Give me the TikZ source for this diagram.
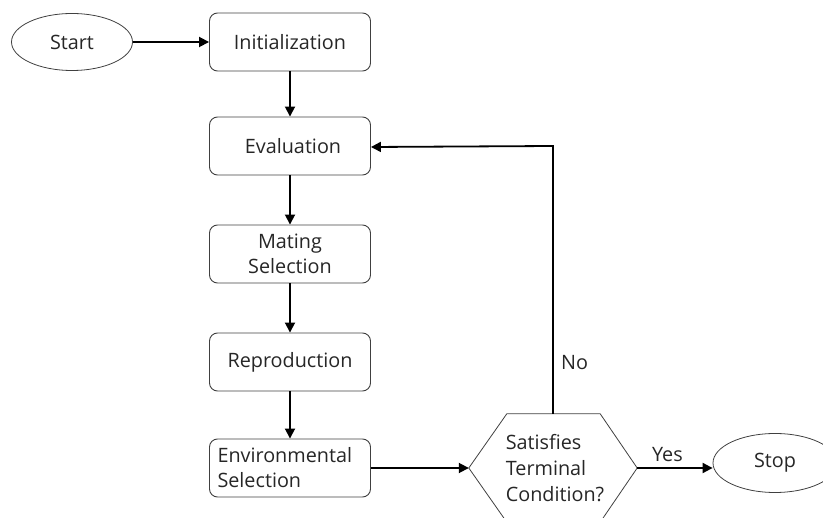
\documentclass[tikz,border=0pt]{standalone}
\usepackage{fontspec}
\setmainfont{Open Sans}
\usetikzlibrary{arrows.meta,calc,shapes.geometric}
\begin{document}
\begin{tikzpicture}[x=1pt,y=-1pt,
  every node/.style={font=\fontsize{19.8}{25}\selectfont, text=black!85},
  procbox/.style={draw=black!75, line width=0.9pt, rounded corners=8pt,
    minimum width=161pt, minimum height=58pt, inner sep=0pt, align=center},
  term/.style={draw=black!75, line width=0.8pt, ellipse, inner sep=0pt},
  flow/.style={line width=1.8pt, -{Triangle[length=10pt,width=10pt]}}
]
\useasboundingbox (0,0) rectangle (823,518);
\clip (0,0) rectangle (823,518);

% terminals
\node[term, minimum width=121pt, minimum height=57pt] (start) at (72,42) {Start};
\node[term, minimum width=124pt, minimum height=59pt] (stop) at (775,463) {Stop};

% process steps
\node[procbox] (init) at (290,42) {Initialization};
\node[procbox] (eval) at (290,146) {\hspace*{6pt}Evaluation};
\node[procbox] (mate) at (290,254) {Mating\\Selection};
\node[procbox] (repr) at (290,362) {Reproduction};
\node[procbox, align=left, text width=145pt] (envs) at (290,468) {Environmental\\Selection};

% decision hexagon
\node[minimum width=168pt, minimum height=108pt, inner sep=0pt, align=left,
  font=\fontsize{19.8}{26}\selectfont] (dec) at (553,468)
  {\hspace*{4pt}Satisfies\\\hspace*{4pt}Terminal\\\hspace*{4pt}Condition?};
\draw[draw=black!75, line width=0.8pt]
  (dec.west) -- ($(dec.north west)+(38,0)$) -- ($(dec.north east)+(-37,0)$)
  -- (dec.east) -- ($(dec.south east)+(-37,0)$) -- ($(dec.south west)+(38,0)$)
  -- cycle;

% connectors
\draw[flow] (start) -- (init);
\draw[flow] (init) -- (eval);
\draw[flow] (eval) -- (mate);
\draw[flow] (mate) -- (repr);
\draw[flow] (repr) -- (envs);
\draw[flow] (envs) -- (dec.west);
\draw[flow] (dec.east) -- node[above, pos=0.4, yshift=2pt] (yes) {Yes} (stop.west |- dec.east);
\coordinate (turn) at (dec.north |- eval.east);
\draw[flow] (dec.north) -- node[right, pos=0.19, xshift=4pt] (no) {No} (turn) -- ($(eval.east)+(0,1)$);
\end{tikzpicture}
\end{document}
